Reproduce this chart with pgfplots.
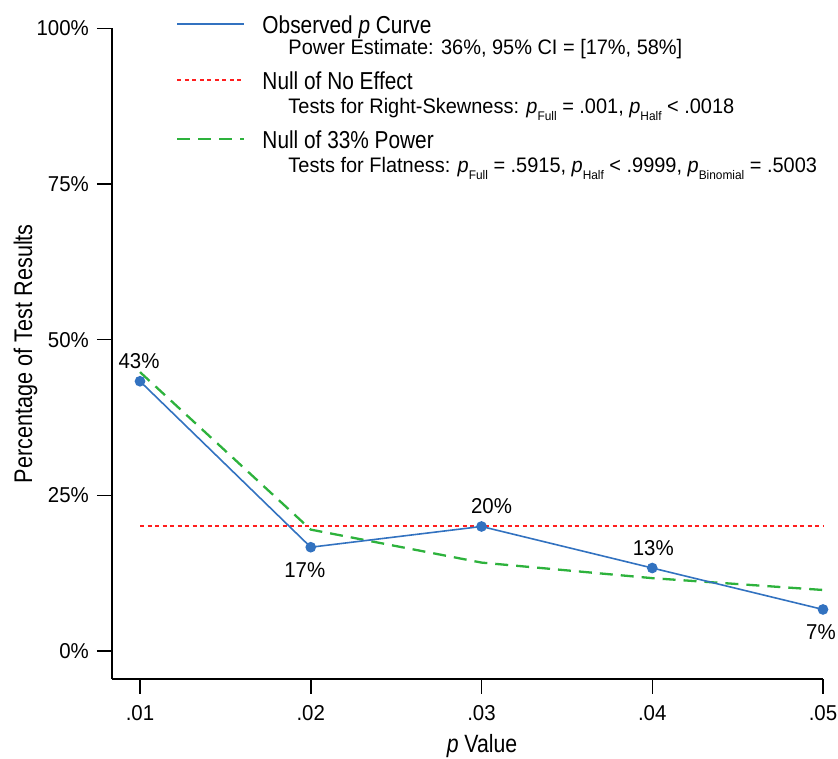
\documentclass[border=0pt]{standalone}
\usepackage{fontspec}
\setmainfont{Liberation Sans}[FakeStretch=0.85]
\newfontfamily\subfont{Liberation Sans}[FakeStretch=0.95]
\usepackage{pgfplots}
\pgfplotsset{compat=1.18}
\definecolor{obsblue}{RGB}{50,114,192}
\definecolor{nullred}{RGB}{255,30,30}
\definecolor{powgreen}{RGB}{45,178,60}
\newcommand\lt{\fontsize{24.5bp}{28bp}\selectfont}
\newcommand\st{\subfont\fontsize{21bp}{24bp}\selectfont}
\newcommand\tk{\subfont\fontsize{21.5bp}{24bp}\selectfont}
\newcommand\sub[1]{\raisebox{-7bp}{\fontsize{12.5bp}{14bp}\selectfont #1}}
\begin{document}
\begin{tikzpicture}
\begin{axis}[
  at={(112bp,80bp)}, anchor=south west,
  scale only axis, width=711bp, height=650.5bp,
  xmin=0.00836, xmax=0.05, ymin=-4.5, ymax=100,
  axis x line*=bottom, axis y line*=left,
  axis line style={line width=1.8bp, black},
  tick align=outside, major tick length=15bp,
  tick style={line width=1.5bp, black},
  xtick={0.01,0.02,0.03,0.04,0.05},
  xticklabels={.01,.02,.03,.04,.05},
  ytick={0,25,50,75,100},
  yticklabels={0\%,25\%,50\%,75\%,100\%},
  ticklabel style={font=\tk, inner sep=0pt},
  yticklabel style={anchor=east, xshift=-8bp},
  xticklabel style={anchor=base, yshift=-27bp},
  scaled x ticks=false,
  clip=false,
  xlabel={\textit{p} Value},
  ylabel={Percentage of Test Results},
  every axis x label/.style={at={(rel axis cs:0.5204,-0.1135)}, anchor=base, font=\fontsize{25bp}{30bp}\selectfont},
  every axis y label/.style={at={(rel axis cs:-0.1125,0.5)}, anchor=base, rotate=90, font=\fontsize{25.5bp}{30bp}\selectfont},
  legend image code/.code={\draw[#1] (0bp,9bp) -- (67bp,9bp);},
  legend style={draw=none, fill=none, at={(0.09,1.0238)}, anchor=north west, inner sep=0pt, row sep=0pt, column sep=17bp, nodes={inner sep=0pt, text depth=0pt}, cells={anchor=base west}},
]
\addplot[nullred, line width=2bp, dash pattern=on 4bp off 3.5bp, forget plot] coordinates {(0.01,20) (0.02,20) (0.03,20) (0.04,20) (0.05,20)};
\addplot[powgreen, line width=2.3bp, dash pattern=on 13bp off 8bp, forget plot] coordinates {(0.01,44.8) (0.02,19.5) (0.03,14.2) (0.04,11.7) (0.05,9.8)};
\addplot[obsblue, line width=1.6bp, mark=*, mark size=4.5bp, mark options={solid, fill=obsblue, draw=obsblue}, forget plot] coordinates {(0.01,43.33) (0.02,16.67) (0.03,20) (0.04,13.33) (0.05,6.67)};

\addlegendimage{obsblue, line width=2bp}
\addlegendentry{\lt\rule{0pt}{20bp}Observed \textit{p} Curve}
\addlegendimage{empty legend}
\addlegendentry{\st\rule{0pt}{21bp}\hspace*{26bp}Power Estimate: 36\%, 95\% CI = [17\%, 58\%]}
\addlegendimage{nullred, line width=2bp, dash pattern=on 4bp off 3.5bp}
\addlegendentry{\lt\rule{0pt}{35bp}Null of No Effect}
\addlegendimage{empty legend}
\addlegendentry{\st\rule{0pt}{24bp}\hspace*{26bp}Tests for Right-Skewness: \textit{p}\sub{Full} = .001, \textit{p}\sub{Half} < .0018}
\addlegendimage{powgreen, line width=2.3bp, dash pattern=on 13bp off 8bp}
\addlegendentry{\lt\rule{0pt}{35bp}Null of 33\% Power}
\addlegendimage{empty legend}
\addlegendentry{\st\rule{0pt}{24bp}\hspace*{26bp}Tests for Flatness: \textit{p}\sub{Full} = .5915, \textit{p}\sub{Half} < .9999, \textit{p}\sub{Binomial} = .5003}

\node[font=\tk, anchor=base, inner sep=0pt, xshift=-1bp, yshift=13bp] at (axis cs:0.01,43.33) {43\%};
\node[font=\tk, anchor=north, inner sep=0pt, xshift=-6bp, yshift=-15bp] at (axis cs:0.02,16.67) {17\%};
\node[font=\tk, anchor=base, inner sep=0pt, xshift=10bp, yshift=13bp] at (axis cs:0.03,20) {20\%};
\node[font=\tk, anchor=base, inner sep=0pt, xshift=1bp, yshift=13bp] at (axis cs:0.04,13.33) {13\%};
\node[font=\tk, anchor=north, inner sep=0pt, xshift=-2bp, yshift=-15bp] at (axis cs:0.05,6.67) {7\%};
\end{axis}
\pgfresetboundingbox
\path[use as bounding box] (0,0) rectangle (838bp,759bp);
\end{tikzpicture}
\end{document}
